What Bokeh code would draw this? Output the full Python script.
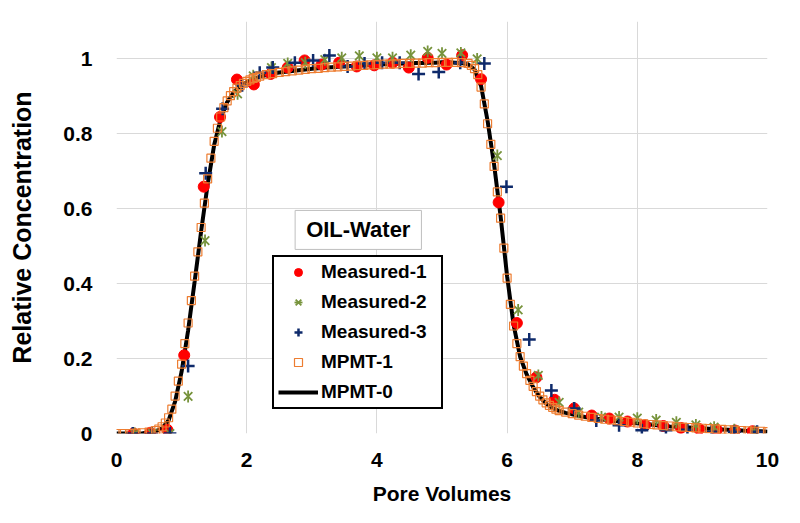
import math
from bokeh.plotting import figure
from bokeh.models import Legend, LegendItem, Label, FixedTicker, Range1d, CustomJSTickFormatter
from bokeh.embed import file_html
from bokeh.resources import INLINE

# ---------------- data ----------------
x_ticks = [0, 2, 4, 6, 8, 10]
y_ticks = [0, 0.2, 0.4, 0.6, 0.8, 1.0]

meas1_x = [0.26, 0.52, 0.78, 1.04, 1.34, 1.59, 1.85, 2.11, 2.37, 2.63, 2.89, 3.15, 3.42, 3.69,
           3.96, 4.24, 4.49, 4.78, 5.07, 5.31, 5.60, 5.87, 6.15, 6.45, 6.73, 7.03, 7.30, 7.57,
           7.85, 8.12, 8.40, 8.67, 8.95, 9.22, 9.50, 9.77]
meas1_y = [0.000, 0.002, 0.010, 0.209, 0.659, 0.845, 0.945, 0.932, 0.960, 0.977, 0.996, 0.985,
           0.990, 0.980, 0.983, 0.990, 0.977, 1.003, 0.985, 1.010, 0.946, 0.617, 0.295, 0.150,
           0.090, 0.067, 0.048, 0.040, 0.032, 0.022, 0.020, 0.015, 0.012, 0.010, 0.008, 0.006]

meas2_x = [0.28, 0.55, 0.82, 1.10, 1.36, 1.62, 1.86, 2.10, 2.38, 2.63, 2.90, 3.20, 3.46, 3.73,
           4.00, 4.24, 4.52, 4.78, 5.00, 5.29, 5.54, 5.85, 6.17, 6.48, 6.80, 7.10, 7.45, 7.72,
           8.00, 8.29, 8.60, 8.90, 9.18, 9.49, 9.80]
meas2_y = [0.000, 0.000, 0.000, 0.099, 0.515, 0.806, 0.907, 0.955, 0.977, 0.988, 0.990, 0.998,
           1.003, 1.008, 1.003, 1.003, 1.010, 1.020, 1.015, 1.016, 1.000, 0.742, 0.330, 0.155,
           0.083, 0.057, 0.044, 0.044, 0.041, 0.036, 0.030, 0.023, 0.017, 0.010, 0.005]

meas3_x = [0.25, 0.54, 0.82, 1.10, 1.37, 1.63, 1.93, 2.20, 2.40, 2.74, 3.02, 3.27, 3.55, 3.81,
           4.08, 4.35, 4.64, 4.95, 5.28, 5.65, 5.99, 6.34, 6.68, 7.03, 7.37, 7.72, 8.07, 8.44,
           8.77, 9.14, 9.49, 9.84]
meas3_y = [0.000, 0.000, 0.000, 0.180, 0.695, 0.867, 0.930, 0.963, 0.977, 0.990, 0.996, 1.009,
           0.980, 0.988, 0.990, 0.990, 0.960, 0.965, 0.990, 0.988, 0.659, 0.251, 0.115, 0.067,
           0.035, 0.022, 0.009, 0.009, 0.010, 0.005, 0.005, 0.005]

mpmt1_x = [0.0, 0.1, 0.2, 0.3, 0.4, 0.5,
           0.6, 0.65, 0.7, 0.75, 0.8, 0.85, 0.9, 0.95, 1.0, 1.05, 1.1, 1.15, 1.2, 1.25, 1.3,
           1.35, 1.4, 1.45, 1.5, 1.55, 1.6, 1.65, 1.7, 1.75, 1.8, 1.85, 1.9, 1.95, 2.0, 2.05,
           2.1, 2.15, 2.2,
           2.3, 2.4, 2.5, 2.6, 2.7, 2.8, 2.9, 3.0, 3.1, 3.2, 3.3, 3.4, 3.5, 3.6, 3.7, 3.8, 3.9,
           4.0, 4.1, 4.2, 4.3, 4.4, 4.5, 4.6, 4.7, 4.8, 4.9, 5.0, 5.1, 5.2, 5.3,
           5.4, 5.45, 5.5, 5.55, 5.6, 5.65, 5.7, 5.75, 5.8, 5.85, 5.9, 5.95, 6.0, 6.05, 6.1,
           6.15, 6.2, 6.25, 6.3, 6.35, 6.4, 6.45, 6.5, 6.55, 6.6, 6.65, 6.7, 6.75, 6.8,
           6.9, 7.0, 7.1, 7.2, 7.3, 7.4, 7.5, 7.6, 7.7, 7.8, 7.9, 8.0, 8.1, 8.2, 8.3, 8.4, 8.5,
           8.6, 8.7, 8.8, 8.9, 9.0, 9.1, 9.2, 9.3, 9.4, 9.5, 9.6, 9.7, 9.8, 9.9, 10.0]
mpmt1_y = [0.000, 0.000, 0.000, 0.001, 0.002, 0.004,
           0.008, 0.012, 0.018, 0.028, 0.042, 0.065, 0.100, 0.140, 0.185, 0.240, 0.295, 0.355,
           0.420, 0.485, 0.550, 0.615, 0.680, 0.735, 0.780, 0.815, 0.845, 0.870, 0.888, 0.902,
           0.913, 0.922, 0.929, 0.935, 0.940, 0.944, 0.948, 0.951, 0.954,
           0.958, 0.961, 0.964, 0.966, 0.968, 0.970, 0.972, 0.974, 0.975, 0.977, 0.978, 0.979,
           0.980, 0.981, 0.982, 0.983, 0.984, 0.985, 0.986, 0.986, 0.987, 0.988, 0.988, 0.989,
           0.989, 0.990, 0.990, 0.991, 0.991, 0.991, 0.990,
           0.988, 0.983, 0.974, 0.958, 0.925, 0.880, 0.827, 0.772, 0.713, 0.645, 0.575, 0.495,
           0.415, 0.345, 0.287, 0.240, 0.205, 0.180, 0.160, 0.142, 0.126, 0.112, 0.100, 0.090,
           0.082, 0.075, 0.070, 0.065, 0.061,
           0.057, 0.053, 0.049, 0.046, 0.043, 0.040, 0.038, 0.036, 0.034, 0.032, 0.030, 0.028,
           0.026, 0.024, 0.023, 0.021, 0.020, 0.018, 0.017, 0.016, 0.015, 0.014, 0.013, 0.012,
           0.011, 0.010, 0.009, 0.008, 0.007, 0.006, 0.006, 0.005]

mpmt0_x = [0.0, 0.1, 0.2, 0.3, 0.4, 0.5, 0.6, 0.7, 0.8, 0.9, 1.0, 1.1, 1.2, 1.3, 1.4, 1.5, 1.6,
           1.7, 1.8, 1.9, 2.0, 2.1, 2.2, 2.3, 2.4, 2.5, 2.6, 2.7, 2.8, 2.9, 3.0, 3.1, 3.2, 3.3,
           3.4, 3.5, 3.6, 3.7, 3.8, 3.9, 4.0, 4.1, 4.2, 4.3, 4.4, 4.5, 4.6, 4.7, 4.8, 4.9, 5.0,
           5.1, 5.2, 5.3, 5.4, 5.5, 5.6, 5.7, 5.8, 5.9, 6.0, 6.1, 6.2, 6.3, 6.4, 6.5, 6.6, 6.7,
           6.8, 6.9, 7.0, 7.1, 7.2, 7.3, 7.4, 7.5, 7.6, 7.7, 7.8, 7.9, 8.0, 8.1, 8.2, 8.3, 8.4,
           8.5, 8.6, 8.7, 8.8, 8.9, 9.0, 9.1, 9.2, 9.3, 9.4, 9.5, 9.6, 9.7, 9.8, 9.9, 10.0]
mpmt0_y = [0.000, 0.000, 0.000, 0.000, 0.001, 0.003, 0.006, 0.014, 0.035, 0.085, 0.165, 0.275,
           0.405, 0.540, 0.665, 0.770, 0.840, 0.885, 0.911, 0.927, 0.938, 0.946, 0.952,
           0.957, 0.961, 0.964, 0.966, 0.968, 0.970, 0.972, 0.974, 0.975, 0.977, 0.978, 0.979,
           0.980, 0.981, 0.982, 0.983, 0.984, 0.985, 0.986, 0.986, 0.987, 0.988, 0.988, 0.989,
           0.989, 0.990, 0.990, 0.991, 0.991, 0.990, 0.989,
           0.986, 0.972, 0.928, 0.835, 0.718, 0.580, 0.420, 0.290, 0.205, 0.158, 0.124, 0.098,
           0.080, 0.068, 0.060,
           0.055, 0.051, 0.047, 0.044, 0.041, 0.039, 0.037, 0.035, 0.033, 0.031, 0.029, 0.027,
           0.025, 0.024, 0.022, 0.021, 0.019, 0.018, 0.017, 0.016, 0.015, 0.014, 0.013, 0.012,
           0.011, 0.010, 0.009, 0.008, 0.007, 0.006, 0.006, 0.005]

FONT = "Liberation Sans"
GRID = "#d9d9d9"

p = figure(width=794, height=520, x_range=Range1d(0, 10), y_range=Range1d(0, 1.1),
           output_backend="svg", toolbar_location=None,
           min_border_left=116, min_border_right=27, min_border_top=21, min_border_bottom=87)
p.outline_line_color = None
p.background_fill_color = "white"
p.border_fill_color = "white"

p.xaxis.ticker = FixedTicker(ticks=x_ticks)
p.yaxis.ticker = FixedTicker(ticks=y_ticks)
p.yaxis.formatter = CustomJSTickFormatter(code="return tick.toFixed(1).replace(/\\.0$/, '');")
for ax in (p.xaxis[0], p.yaxis[0]):
    ax.axis_line_color = None
    ax.major_tick_line_color = None
    ax.minor_tick_line_color = None
    ax.major_label_text_font = FONT
    ax.major_label_text_font_style = "bold"
    ax.major_label_text_font_size = "21px"
    ax.major_label_text_color = "black"
    ax.axis_label_text_font = FONT
    ax.axis_label_text_font_style = "bold"
    ax.axis_label_text_color = "black"
p.xaxis.axis_label = "Pore Volumes"
p.yaxis.axis_label = "Relative Concentration"
p.xaxis.axis_label_text_font_size = "21px"
p.yaxis.axis_label_text_font_size = "25px"
p.xaxis.major_label_standoff = 13
p.yaxis.major_label_standoff = 18
p.xaxis.axis_label_standoff = 12
p.yaxis.axis_label_standoff = 24

p.xgrid.grid_line_color = GRID
p.ygrid.grid_line_color = GRID
p.xgrid.grid_line_width = 1
p.ygrid.grid_line_width = 1

r_line = p.line(mpmt0_x, mpmt0_y, line_color="black", line_width=4)
r_m1 = p.scatter(meas1_x, meas1_y, marker="circle", size=11, fill_color="#ff0000", line_color="#ff0000")
r_m2a = p.scatter(meas2_x, meas2_y, marker="x", size=12, line_color="#77933c", line_width=1.8)
r_m2b = p.scatter(meas2_x, meas2_y, marker="dash", angle=math.pi / 2, size=12,
                  line_color="#77933c", line_width=1.8)
r_m3 = p.scatter(meas3_x, meas3_y, marker="cross", size=13, line_color="#0e2a6b", line_width=2.5)
r_sq = p.scatter(mpmt1_x, mpmt1_y, marker="square", size=8, fill_color=None,
                 line_color="#ed7d31", line_width=1.2)

legend = Legend(items=[
    LegendItem(label="Measured-1", renderers=[r_m1]),
    LegendItem(label="Measured-2", renderers=[r_m2a, r_m2b]),
    LegendItem(label="Measured-3", renderers=[r_m3]),
    LegendItem(label="MPMT-1", renderers=[r_sq]),
    LegendItem(label="MPMT-0", renderers=[r_line]),
], location=(156, 24), border_line_color="black", border_line_alpha=1.0, border_line_width=2,
    padding=4, spacing=8, glyph_width=40, glyph_height=20, label_height=20, label_standoff=3,
    label_width=116,
    label_text_font=FONT, label_text_font_style="bold", label_text_font_size="19px",
    label_text_color="black",
    background_fill_color="white", background_fill_alpha=1, margin=0)
p.add_layout(legend)

title_lbl = Label(x=3.714, y=0.5435, text="OIL-Water", text_align="center", text_baseline="middle",
                  text_font=FONT, text_font_style="bold", text_font_size="22px", text_color="black",
                  border_line_color="#bfbfbf", border_line_width=1,
                  background_fill_color="white", padding=(11, 7))
p.add_layout(title_lbl)

open("out.html", "w").write(file_html(p, INLINE))
